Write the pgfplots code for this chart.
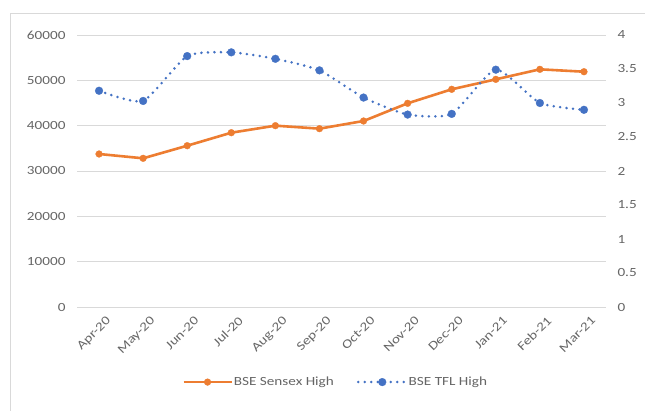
\documentclass[border=0pt]{standalone}
\usepackage{pgfplots}
\pgfplotsset{compat=1.18}
\usepackage{fontspec}
\setmainfont{Carlito}[FakeStretch=1.22]
\definecolor{sensex}{HTML}{ED7D31}
\definecolor{tfl}{HTML}{4472C4}
\definecolor{gridc}{HTML}{D9D9D9}
\definecolor{txt}{HTML}{666666}
\begin{document}
\begin{tikzpicture}[x=1bp,y=1bp]
\useasboundingbox (0,0) rectangle (645,410);
\fill[white] (0,0) rectangle (645,410);
\draw[gridc, line width=1bp] (10,-5) -- (10,396) -- (650,396);
\pgfplotsset{
  every axis/.append style={
    scale only axis, width=529bp, height=272bp,
    at={(77bp,103bp)}, anchor=south west,
    xmin=-0.5, xmax=11.5,
    xtick={0,...,11},
    tick label style={font=\fontsize{12.5}{14}\selectfont, text=txt},
    /pgf/number format/assume math mode=true,
    major tick length=0pt,
  },
  longlegend/.style={legend image code/.code={%
    \draw[mark repeat=2, mark phase=2, #1] plot coordinates {(0bp,0bp)(24bp,0bp)(48bp,0bp)};}},
}
\begin{axis}[
  axis y line*=left, axis x line*=bottom,
  axis line style={draw=none},
  ymin=0, ymax=60000, ytick={0,10000,...,60000},
  /pgf/number format/1000 sep={},
  scaled y ticks=false,
  ymajorgrids, grid style={gridc, line width=0.8bp},
  xticklabels={Apr-20,May-20,Jun-20,Jul-20,Aug-20,Sep-20,Oct-20,Nov-20,Dec-20,Jan-21,Feb-21,Mar-21},
  xticklabel style={rotate=45, anchor=north east, yshift=-7bp, xshift=2bp},
  yticklabel style={xshift=-8bp},
]
\addplot[sensex, line width=2.6bp, mark=*, mark size=3.4bp, mark options={fill=sensex, draw=sensex, line width=0.3bp}]
coordinates {(0,33750)(1,32800)(2,35580)(3,38450)(4,40000)(5,39340)(6,41030)(7,44930)(8,48020)(9,50220)(10,52430)(11,51900)};
\end{axis}
\begin{axis}[
  axis y line*=right, axis x line=none,
  axis line style={draw=none},
  ymin=0, ymax=4, ytick={0,0.5,...,4},
  yticklabel style={xshift=8bp, anchor=west},
  yticklabel={\pgfmathprintnumber{\tick}},
  legend columns=2,
  legend style={at={(axis description cs:0.488,-0.276)}, anchor=center, draw=none, fill=none,
    font=\fontsize{12.5}{14}\selectfont, text=txt, column sep=0bp,
    /tikz/every even column/.append style={column sep=22bp},
    nodes={inner xsep=1bp}},
  legend cell align=left,
]
\addlegendimage{sensex, line width=2.6bp, mark=*, mark size=3.4bp, mark options={fill=sensex, draw=sensex, line width=0.3bp}, longlegend}
\addlegendentry{BSE Sensex High}
\addplot[tfl, line width=2.8bp, line cap=round, dash pattern=on 0pt off 6.5bp, smooth, tension=0.35,
  mark=*, mark size=3.9bp, mark options={solid, fill=tfl, draw=tfl, line width=0.3bp}, longlegend]
coordinates {(0,3.18)(1,3.03)(2,3.69)(3,3.745)(4,3.65)(5,3.48)(6,3.08)(7,2.83)(8,2.84)(9,3.49)(10,3.00)(11,2.90)};
\addlegendentry{BSE TFL High}
\end{axis}
\end{tikzpicture}
\end{document}
